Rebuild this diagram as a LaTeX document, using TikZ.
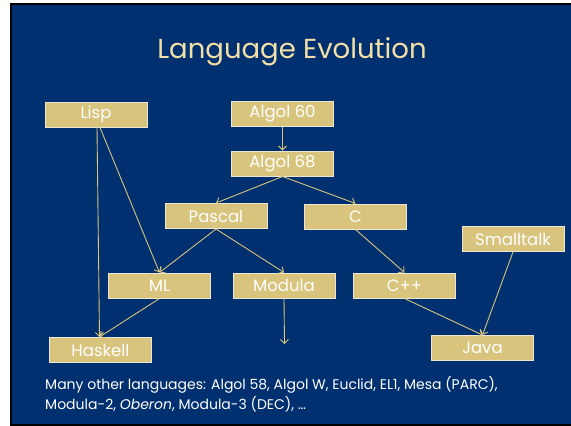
\documentclass[tikz,border=0pt]{standalone}
\usepackage{fontspec}
\setmainfont{Poppins}
\usetikzlibrary{arrows.meta}
\definecolor{slidebg}{RGB}{0,48,112}
\definecolor{boxgold}{RGB}{216,196,124}
\definecolor{titlecol}{RGB}{243,224,166}
\definecolor{boxedge}{RGB}{236,230,210}
\tikzset{
  langbox/.style={rectangle, fill=boxgold, draw=boxedge, line width=1pt,
    minimum width=102pt, minimum height=25pt, inner sep=0pt,
    text=white, font=\fontsize{16.5}{16.5}\selectfont},
  link/.style={draw=boxgold, line width=0.9pt, -{Straight Barb[length=4pt,width=8pt]}},
}
\begin{document}
\begin{tikzpicture}[x=1pt,y=-1pt]
\useasboundingbox (0,0) rectangle (571,426);
\fill[white] (0,0) rectangle (571,426);
\fill[black] (10,3) rectangle (571,426);
\fill[slidebg] (12,5) rectangle (571,424);

\node[text=titlecol, font=\fontsize{27.5}{27.5}\selectfont, anchor=base] (title) at (292,58) {Language Evolution};

\node[langbox] (lisp) at (96,114.5) {Lisp};
\node[langbox] (a60) at (282.5,113.5) {Algol 60};
\node[langbox] (a68) at (282.5,163.5) {Algol 68};
\node[langbox] (pascal) at (216,216) {Pascal};
\node[langbox] (c) at (355.5,216.5) {C};
\node[langbox] (smalltalk) at (513,239) {Smalltalk};
\node[langbox] (ml) at (159.5,285.5) {ML};
\node[langbox] (modula) at (284,285.5) {Modula};
\node[langbox] (cpp) at (404.5,285.5) {C++};
\node[langbox] (haskell) at (100.5,350) {Haskell};
\node[langbox] (java) at (482.5,348) {Java};
\coordinate (modend) at (284.5,344);

\draw[link] (a60.south) -- (a68.north);
\draw[link] (a68.south) -- (pascal.north);
\draw[link] (a68.south) -- (c.north);
\draw[link] ([xshift=1pt]lisp.south) -- ([xshift=-1pt]haskell.north);
\draw[link] ([xshift=4pt]lisp.south) -- (ml.north);
\draw[link] (pascal.south) -- (ml.north);
\draw[link] (pascal.south) -- (modula.north);
\draw[link] (c.south) -- (cpp.north);
\draw[link] (ml.south) -- ([xshift=-1pt]haskell.north);
\draw[link] (modula.south) -- (modend);
\draw[link] (cpp.south) -- (java.north);
\draw[link] (smalltalk.south) -- (java.north);

\node[text=white, font=\fontsize{14}{20}\selectfont, anchor=north west, align=left, inner sep=0pt] (note) at (45,376)
  {Many other languages: Algol 58, Algol W, Euclid, EL1, Mesa (PARC),\\
   Modula-2, \textit{Oberon}, Modula-3 (DEC), \dots};
\end{tikzpicture}
\end{document}
